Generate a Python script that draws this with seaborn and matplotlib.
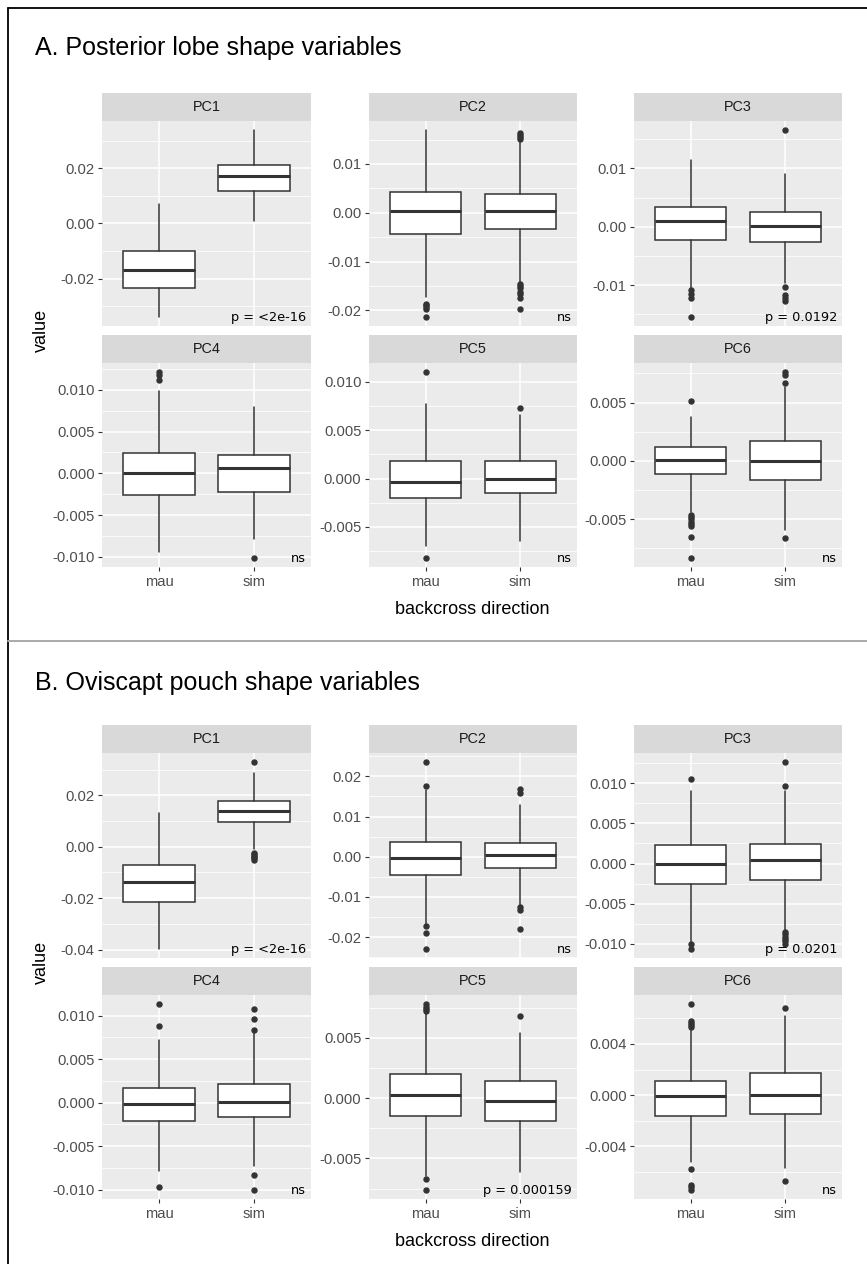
import numpy as np
import matplotlib
matplotlib.use("Agg")
import matplotlib.pyplot as plt
import seaborn as sns
from matplotlib.lines import Line2D

# ---- data ----
pcs = ["PC1", "PC2", "PC3", "PC4", "PC5", "PC6"]
groups = ["mau", "sim"]

# A. posterior lobe, per PC: [mau, sim]
lobe_q1 = [[-0.0233, 0.0119], [-0.0044, -0.0034], [-0.0023, -0.0027],
           [-0.00255, -0.0022], [-0.00203, -0.00155], [-0.0011, -0.0016]]
lobe_med = [[-0.0170, 0.0172], [0.0004, 0.0004], [0.0009, 0.0001],
            [0.0000, 0.0006], [-0.00038, 0.0000], [0.00005, 0.0000]]
lobe_q3 = [[-0.0099, 0.0213], [0.0043, 0.0039], [0.0033, 0.0025],
           [0.00245, 0.0022], [0.00186, 0.00186], [0.0012, 0.0017]]
lobe_lo = [[-0.0338, 0.0007], [-0.0172, -0.0141], [-0.0105, -0.0097],
           [-0.00945, -0.0079], [-0.0070, -0.0065], [-0.0044, -0.0059]]
lobe_hi = [[0.0071, 0.0337], [0.0169, 0.0149], [0.0114, 0.0090],
           [0.0099, 0.0079], [0.0077, 0.0066], [0.0038, 0.0063]]
lobe_fliers = [
    [[], []],
    [[-0.0186, -0.0190, -0.0194, -0.0197, -0.0213],
     [0.0152, 0.0155, 0.0160, 0.0164, -0.0145, -0.0150, -0.0155, -0.0163, -0.0167, -0.0175, -0.0198]],
    [[-0.0109, -0.0115, -0.0122, -0.0154], [0.0165, -0.0104, -0.0117, -0.0122, -0.0128]],
    [[0.0112, 0.0118, 0.0121], [-0.0101]],
    [[0.0110, -0.0082], [0.0073]],
    [[0.0051, -0.0046, -0.0048, -0.0050, -0.0052, -0.0054, -0.0056, -0.0065, -0.0083],
     [0.0067, 0.0074, 0.0076, -0.0066]],
]
lobe_p = ["p = <2e-16", "ns", "p = 0.0192", "ns", "ns", "ns"]
lobe_ticks = [[-0.02, 0.0, 0.02], [-0.02, -0.01, 0.0, 0.01], [-0.01, 0.0, 0.01],
              [-0.01, -0.005, 0.0, 0.005, 0.01], [-0.005, 0.0, 0.005, 0.01], [-0.005, 0.0, 0.005]]
lobe_dec = [2, 2, 2, 3, 3, 3]

# B. oviscapt pouch, per PC: [mau, sim]
pouch_q1 = [[-0.0215, 0.0098], [-0.0045, -0.0027], [-0.0026, -0.0020],
            [-0.0021, -0.0017], [-0.0015, -0.0019], [-0.0016, -0.0015]]
pouch_med = [[-0.0138, 0.0138], [-0.0002, 0.0004], [-0.0001, 0.0005],
             [-0.00015, 0.0001], [0.0003, -0.0002], [-0.0001, 0.0000]]
pouch_q3 = [[-0.0070, 0.0177], [0.00375, 0.0035], [0.0023, 0.0024],
            [0.0017, 0.0021], [0.0020, 0.0014], [0.0011, 0.0017]]
pouch_lo = [[-0.0396, -0.0010], [-0.0167, -0.0121], [-0.0098, -0.0083],
            [-0.0079, -0.0073], [-0.0065, -0.0061], [-0.0052, -0.0057]]
pouch_hi = [[0.0130, 0.0288], [0.0165, 0.0129], [0.0090, 0.0090],
            [0.0072, 0.0080], [0.0070, 0.0054], [0.0051, 0.0062]]
pouch_fliers = [
    [[], [0.0328, -0.0025, -0.0030, -0.0035, -0.0040, -0.0045, -0.0050]],
    [[0.0235, 0.0175, -0.0173, -0.0191, -0.0229], [0.0169, 0.0158, -0.0125, -0.0133, -0.0179]],
    [[0.0105, -0.0100, -0.0106], [0.0126, 0.0096, -0.0085, -0.0088, -0.0091, -0.0094, -0.0097, -0.0100]],
    [[0.0113, 0.0088, -0.0097], [0.0107, 0.0096, 0.0084, -0.0083, -0.0100]],
    [[0.0072, 0.0074, 0.0076, 0.0078, -0.0067, -0.0076], [0.0068]],
    [[0.0071, 0.0053, 0.0055, 0.0056, 0.0058, -0.0058, -0.0070, -0.0072, -0.0074], [0.0068, -0.0067]],
]
pouch_p = ["p = <2e-16", "ns", "p = 0.0201", "ns", "p = 0.000159", "ns"]
pouch_ticks = [[-0.04, -0.02, 0.0, 0.02], [-0.02, -0.01, 0.0, 0.01, 0.02],
               [-0.01, -0.005, 0.0, 0.005, 0.01], [-0.01, -0.005, 0.0, 0.005, 0.01],
               [-0.005, 0.0, 0.005], [-0.004, 0.0, 0.004]]
pouch_dec = [2, 2, 3, 3, 3, 3]

# ---- style ----
sns.set_theme(style="darkgrid", rc={"axes.facecolor": "#EBEBEB"})
plt.rcParams["font.family"] = ["Liberation Sans", "DejaVu Sans"]
plt.rcParams["axes.unicode_minus"] = False

W, H = 867, 1264
fig = plt.figure(figsize=(W / 100, H / 100), dpi=100)
fig.patch.set_facecolor("white")


def px_axes(x0, y0, x1, y1):
    return fig.add_axes([x0 / W, 1 - y1 / H, (x1 - x0) / W, (y1 - y0) / H])


cols = [(102, 311), (369, 577), (634, 842)]


def draw_section(top, q1, med, q3, lo, hi, fliers, plabels, ticks, decs):
    # top: y pixel of first strip top
    rows = [(top, top + 28, top + 233), (top + 242, top + 270, top + 474)]
    for i, pc in enumerate(pcs):
        r, c = divmod(i, 3)
        st, pt, pb = rows[r]
        x0, x1 = cols[c]
        strip = px_axes(x0, st, x1, pt)
        strip.set_facecolor("#D9D9D9")
        strip.set_xticks([])
        strip.set_yticks([])
        strip.grid(False)
        for s in strip.spines.values():
            s.set_visible(False)
        strip.text(0.5, 0.5, pc, ha="center", va="center", fontsize=10.4,
                   color="#1A1A1A", transform=strip.transAxes)

        ax = px_axes(x0, pt, x1, pb)
        stats = []
        for g in range(2):
            stats.append(dict(med=med[i][g], q1=q1[i][g], q3=q3[i][g],
                              whislo=lo[i][g], whishi=hi[i][g], fliers=fliers[i][g]))
        ax.bxp(stats, positions=[0, 1], widths=0.75, patch_artist=True, showcaps=False,
               boxprops=dict(facecolor="white", edgecolor="#333333", linewidth=1.1),
               medianprops=dict(color="#333333", linewidth=2.2),
               whiskerprops=dict(color="#333333", linewidth=1.1),
               flierprops=dict(marker="o", markerfacecolor="#333333", markeredgecolor="#333333",
                               markersize=3.6, linestyle="none"),
               zorder=3)
        allv = [v for g in range(2) for v in [lo[i][g], hi[i][g]] + list(fliers[i][g])]
        vmin, vmax = min(allv), max(allv)
        pad = (vmax - vmin) * 0.05
        ax.set_ylim(vmin - pad, vmax + pad)
        ax.set_xlim(-0.6, 1.6)

        tk = ticks[i]
        step = tk[1] - tk[0]
        minor = [t for t in np.arange(tk[0] - step / 2, tk[-1] + step, step)
                 if vmin - pad <= t <= vmax + pad]
        ax.set_yticks(tk)
        ax.set_yticklabels([f"{abs(t) if t == 0 else t:.{decs[i]}f}" for t in tk])
        ax.set_yticks(minor, minor=True)
        ax.set_xticks([0, 1])
        if r == 1:
            ax.set_xticklabels(groups)
        else:
            ax.set_xticklabels([])
        ax.grid(which="major", color="white", linewidth=1.1)
        ax.grid(which="minor", axis="y", color="white", linewidth=0.55)
        ax.set_axisbelow(True)
        for s in ax.spines.values():
            s.set_visible(False)
        ax.tick_params(which="major", length=2.9, width=0.8, color="#333333", pad=2.5,
                       labelsize=10.6, labelcolor="#4D4D4D",
                       left=True, bottom=(r == 1))
        ax.tick_params(which="minor", length=0)
        ax.set_xlabel("")
        ax.set_ylabel("")
        ax.annotate(plabels[i], xy=(1, 0), xycoords="axes fraction", xytext=(-3.5, 3.5),
                    textcoords="offset points", ha="right", va="baseline",
                    fontsize=9.3, color="black", family="DejaVu Sans", zorder=5)

    mid = (top + top + 474) / 2
    fig.text(41 / W, 1 - mid / H, "value", rotation=90, ha="center", va="center",
             fontsize=13, color="black")
    fig.text(472 / W, 1 - (top + 517) / H, "backcross direction", ha="center", va="center",
             fontsize=13, color="black")


fig.text(35 / W, 1 - 48 / H, "A. Posterior lobe shape variables", ha="left", va="center",
         fontsize=18, color="black")
fig.text(35 / W, 1 - 683 / H, "B. Oviscapt pouch shape variables", ha="left", va="center",
         fontsize=18, color="black")

draw_section(93, lobe_q1, lobe_med, lobe_q3, lobe_lo, lobe_hi, lobe_fliers,
             lobe_p, lobe_ticks, lobe_dec)
draw_section(725, pouch_q1, pouch_med, pouch_q3, pouch_lo, pouch_hi, pouch_fliers,
             pouch_p, pouch_ticks, pouch_dec)

# frame lines
fig.add_artist(Line2D([8 / W, 8 / W], [0, 1 - 8 / H], color="black", linewidth=1.3))
fig.add_artist(Line2D([8 / W, 1], [1 - 8 / H, 1 - 8 / H], color="black", linewidth=1.3))
fig.add_artist(Line2D([8 / W, 1], [1 - 641 / H, 1 - 641 / H], color="#AAAAAA", linewidth=1.4))

fig.savefig("out.png", dpi=100, facecolor="white")
